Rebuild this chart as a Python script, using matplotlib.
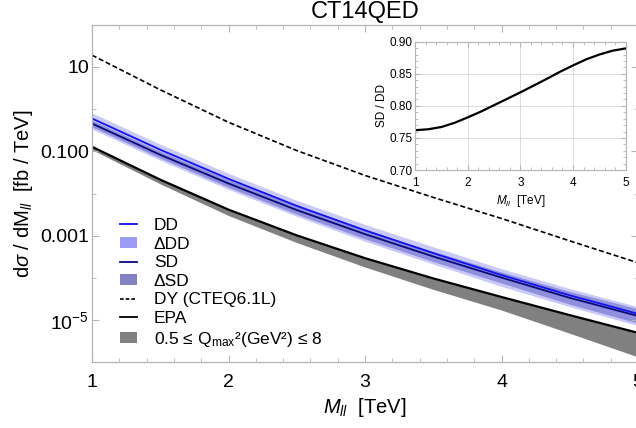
import matplotlib
matplotlib.use("Agg")
import matplotlib.pyplot as plt
from matplotlib.ticker import FixedLocator, FixedFormatter, MultipleLocator
from matplotlib.lines import Line2D
from matplotlib.patches import Patch

plt.rcParams['font.family'] = ['Liberation Sans', 'DejaVu Sans']
plt.rcParams['mathtext.fontset'] = 'custom'
plt.rcParams['mathtext.rm'] = 'Liberation Sans'
plt.rcParams['mathtext.it'] = 'Liberation Sans:italic'
plt.rcParams['mathtext.bf'] = 'Liberation Sans:bold'

# ---------------- data (fb / TeV) ----------------
mass = [1.0, 1.5, 2.0, 2.5, 3.0, 3.5, 4.0, 4.5, 5.0]
dy_cteq = [19.05, 2.884, 0.4898, 0.1047, 0.02692, 8.128e-3, 2.570e-3, 7.586e-4, 2.291e-4]
dd = [0.6026, 0.1096, 0.02239, 5.129e-3, 1.349e-3, 3.890e-4, 1.175e-4, 3.890e-5, 1.413e-5]
dd_up = [0.8128, 0.1479, 0.03020, 6.918e-3, 1.862e-3, 5.495e-4, 1.660e-4, 5.623e-5, 2.089e-5]
dd_lo = [0.3388, 0.06166, 0.01259, 2.884e-3, 7.413e-4, 2.138e-4, 6.310e-5, 2.089e-5, 7.413e-6]
sd = [0.4571, 0.08318, 0.01738, 4.074e-3, 1.096e-3, 3.236e-4, 1.023e-4, 3.388e-5, 1.259e-5]
sd_up = [0.5495, 0.1000, 0.02138, 5.129e-3, 1.413e-3, 4.266e-4, 1.380e-4, 4.786e-5, 1.862e-5]
sd_lo = [0.3802, 0.06918, 0.01413, 3.236e-3, 8.511e-4, 2.455e-4, 7.586e-5, 2.399e-5, 8.511e-6]
epa = [0.1288, 0.02138, 4.169e-3, 1.023e-3, 2.951e-4, 9.772e-5, 3.548e-5, 1.318e-5, 5.012e-6]
epa_lo = [0.1096, 0.01698, 3.020e-3, 6.918e-4, 1.820e-4, 5.370e-5, 1.738e-5, 4.898e-6, 1.349e-6]

mass_inset = [1.0, 1.25, 1.5, 1.75, 2.0, 2.25, 2.5, 2.75, 3.0, 3.25, 3.5, 3.75, 4.0, 4.25, 4.5, 4.75, 5.0]
ratio_sd_dd = [0.762, 0.7635, 0.767, 0.7735, 0.782, 0.791, 0.801, 0.811, 0.821, 0.8315,
               0.842, 0.853, 0.863, 0.8725, 0.880, 0.886, 0.8895]

y_ticks = [10.0, 0.1, 0.001, 1e-5]
y_ticklabels = ['10', '0.100', '0.001', r'$\mathregular{10^{-5}}$']
x_ticks = [1, 2, 3, 4, 5]
legend_labels = ['DD', '\u0394DD', 'SD', '\u0394SD', 'DY (CTEQ6.1L)', 'EPA',
                 '0.5 \u2264 Q$_{\\mathregular{max}}$\u00b2(GeV\u00b2) \u2264 8']

# ---------------- styling ----------------
W, H = 636, 428
fig = plt.figure(figsize=(W / 100, H / 100), dpi=100)
frame_col = '#b4b4b4'
col_dd = '#1010f0'
col_sd = '#0a0a78'
col_ddband = '#cacafa'
col_sdband = '#8f8fdc'

ax = fig.add_axes([92 / W, 1 - 362.4 / H, 546 / W, 337.6 / H])
ax.fill_between(mass, dd_lo, dd_up, color=col_ddband, lw=0)
ax.fill_between(mass, sd_lo, sd_up, color=col_sdband, lw=0)
ax.fill_between(mass, epa_lo, epa, color='#808080', lw=0)
ax.plot(mass, dy_cteq, color='black', lw=1.2, dashes=(3.0, 1.6))
ax.plot(mass, epa, color='black', lw=1.6)
ax.plot(mass, sd, color=col_sd, lw=1.3)
ax.plot(mass, dd, color=col_dd, lw=1.3)

ax.set_yscale('log')
ax.set_xlim(1, 5)
ax.set_ylim(1e-6, 1e2)
ax.yaxis.set_major_locator(FixedLocator(y_ticks))
ax.yaxis.set_major_formatter(FixedFormatter(y_ticklabels))
ax.yaxis.set_minor_locator(FixedLocator([1e2, 1.0, 1e-2, 1e-4, 1e-6]))
ax.yaxis.set_minor_formatter(FixedFormatter([''] * 5))
ax.xaxis.set_major_locator(FixedLocator(x_ticks))
ax.xaxis.set_minor_locator(MultipleLocator(0.2))
for s in ax.spines.values():
    s.set_color(frame_col)
    s.set_linewidth(0.9)
ax.tick_params(which='both', direction='in', top=True, right=True, color=frame_col,
               labelsize=14, labelcolor='black')
ax.tick_params(axis='x', which='major', length=5, pad=8)
ax.tick_params(axis='y', which='major', length=5, pad=2)
ax.tick_params(which='minor', length=3)

ax.set_title('CT14QED', fontsize=17, pad=5)
ax.set_xlabel(r'$\mathit{M_{ll}}$  [TeV]', fontsize=14.5)
ax.set_ylabel(r'd$\mathit{\sigma}$ / dM$_{\mathit{ll}}$  [fb / TeV]', fontsize=14.5)
ax.xaxis.set_label_coords(0.5, -0.10)
ax.yaxis.set_label_coords(-0.104, 0.5)

handles = [Line2D([], [], color=col_dd, lw=1.3),
           Patch(facecolor='#9c9cf6', edgecolor='none'),
           Line2D([], [], color=col_sd, lw=1.3),
           Patch(facecolor='#8282c4', edgecolor='none'),
           Line2D([], [], color='black', lw=1.2, dashes=(2.2, 1.2)),
           Line2D([], [], color='black', lw=1.3),
           Patch(facecolor='#808080', edgecolor='none')]
ax.legend(handles, legend_labels, loc='upper left', bbox_to_anchor=(0.0513, 0.428),
          frameon=False, fontsize=12.5, handlelength=1.0, handleheight=0.55,
          handletextpad=0.95, labelspacing=0.21, borderaxespad=0, borderpad=0)

# ---------------- inset ----------------
ax2 = fig.add_axes([415 / W, 1 - 170 / H, 210.7 / W, 128.3 / H])
ax2.plot(mass_inset, ratio_sd_dd, color='black', lw=1.6)
ax2.set_xlim(1, 5)
ax2.set_ylim(0.70, 0.90)
ax2.xaxis.set_major_locator(FixedLocator([1, 2, 3, 4, 5]))
ax2.xaxis.set_minor_locator(MultipleLocator(0.2))
ax2.yaxis.set_major_locator(FixedLocator([0.70, 0.75, 0.80, 0.85, 0.90]))
ax2.yaxis.set_major_formatter(FixedFormatter(['0.70', '0.75', '0.80', '0.85', '0.90']))
ax2.yaxis.set_minor_locator(MultipleLocator(0.01))
ax2.grid(True, which='major', color='#dcdcdc', lw=0.7)
for s in ax2.spines.values():
    s.set_color(frame_col)
    s.set_linewidth(0.8)
ax2.tick_params(which='both', direction='in', top=True, right=True, color=frame_col,
                labelsize=8.5, labelcolor='black')
ax2.tick_params(which='major', length=3.5)
ax2.tick_params(axis='x', which='major', pad=5)
ax2.tick_params(axis='y', which='major', pad=1.5)
ax2.tick_params(which='minor', length=2)
ax2.set_xlabel(r'$\mathit{M_{ll}}$  [TeV]', fontsize=8.5)
ax2.set_ylabel('SD / DD', fontsize=8.5)
ax2.xaxis.set_label_coords(0.5, -0.18)
ax2.yaxis.set_label_coords(-0.13, 0.5)

fig.savefig('out.png', dpi=100)
